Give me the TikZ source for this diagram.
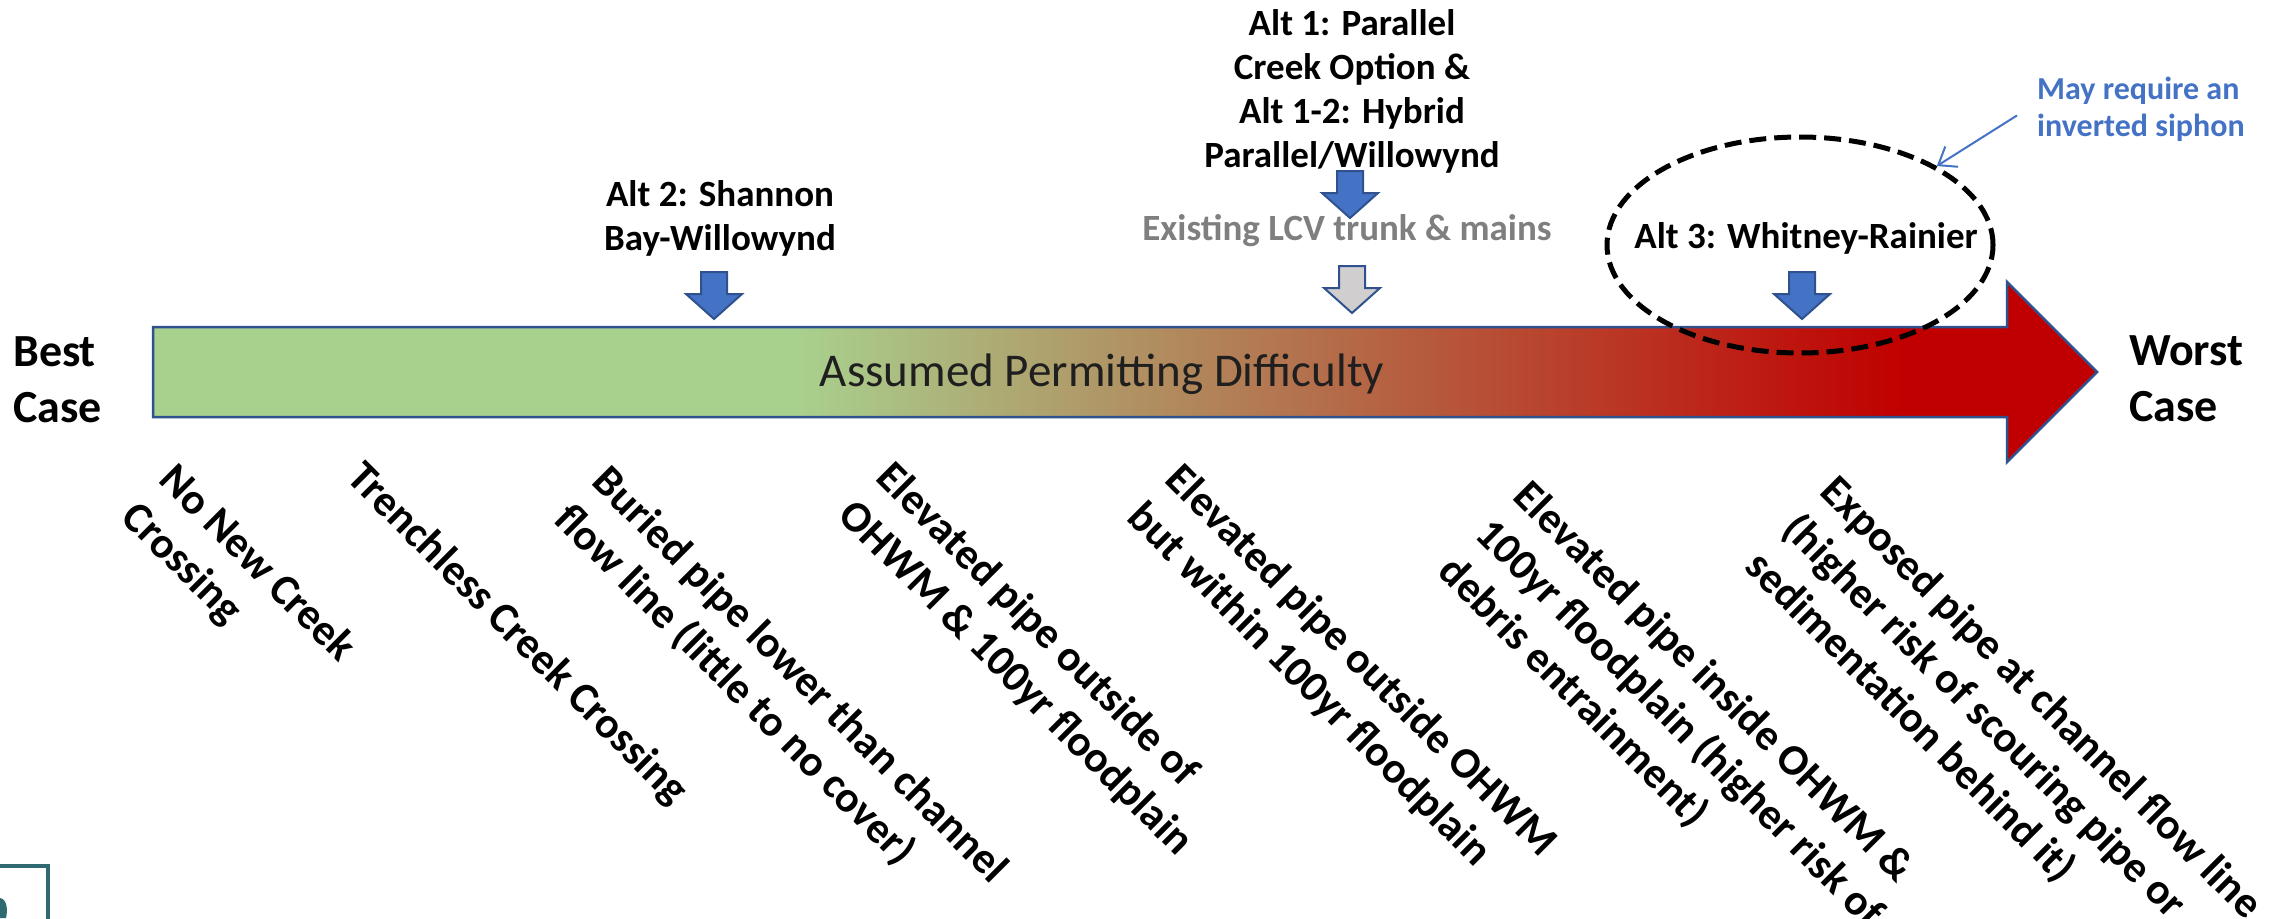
\documentclass[tikz,border=0pt]{standalone}
\usepackage{fontspec}
\setmainfont{Carlito}
\usetikzlibrary{arrows.meta,shapes.geometric}
\definecolor{gA}{HTML}{A9D18E}
\definecolor{rA}{HTML}{C00000}
\definecolor{edgeB}{HTML}{2F528F}
\definecolor{fillB}{HTML}{4472C4}
\definecolor{greyF}{HTML}{D0CECE}
\definecolor{greyT}{HTML}{7F7F7F}
\definecolor{tealC}{HTML}{2E6A70}
\definecolor{noteB}{HTML}{4472C4}
\pgfdeclarehorizontalshading{permgrad}{100bp}{color(0bp)=(gA); color(41.5bp)=(gA); color(70bp)=(rA); color(100bp)=(rA)}
\begin{document}
\begin{tikzpicture}[x=1pt,y=-1pt,
  downarr/.pic={\path[pic actions] (-13,-47) -- (13,-47) -- (13,-25) -- (28,-25) -- (0,0) -- (-28,-25) -- (-13,-25) -- cycle;},
  bluearr/.style={fill=fillB, draw=edgeB, line width=2pt},
  greyarr/.style={fill=greyF, draw=edgeB, line width=2pt},
  rotlab/.style={anchor=north west, inner sep=0pt, rotate=-45, align=left, font=\fontsize{43.5}{53}\selectfont\bfseries},
  altlab/.style={anchor=north, inner sep=0pt, align=center, font=\fontsize{37}{44}\selectfont\bfseries},
  caselab/.style={anchor=north west, inner sep=0pt, align=left, font=\fontsize{46}{56}\selectfont\bfseries},
  notelab/.style={anchor=north west, inner sep=0pt, align=left, text=noteB, font=\fontsize{32}{37}\selectfont\bfseries},
  ovalstyle/.style={ellipse, draw=black, dash pattern=on 17pt off 8pt, line width=5pt, minimum width=386pt, minimum height=216pt, inner sep=0pt},
  notearrow/.style={draw=noteB, line width=2pt, -{Straight Barb[length=16pt,width=24pt,line width=2pt]}}
]
\useasboundingbox (0,0) rectangle (2282,918);

% main gradient arrow
\path[shading=permgrad, draw=edgeB, line width=2.5pt, line join=miter]
  (153,327) -- (2007,327) -- (2007,282) -- (2097,372) -- (2007,462) -- (2007,417) -- (153,417) -- cycle;
\node[inner sep=0pt, font=\fontsize{47}{56}\selectfont, text=black!88] (perm) at (1102,374) {Assumed Permitting Difficulty};

% end labels
\node[caselab] (best) at (13,336) {Best\\Case};
\node[caselab] (worst) at (2129,335) {Worst\\Case};

% alternatives above
\node[altlab] (alt2) at (720,180) {Alt 2: Shannon\\Bay-Willowynd};
\pic[bluearr] at (714,319) {downarr};

\node[altlab] (alt1) at (1352,9) {Alt 1: Parallel\\Creek Option \&\\Alt 1-2: Hybrid\\Parallel/Willowynd};
\pic[bluearr] at (1350,218) {downarr};

\node[altlab, text=greyT] (lcv) at (1347,214) {Existing LCV trunk \& mains};
\pic[greyarr] at (1352,313) {downarr};

\node[altlab] (alt3) at (1806,222) {Alt 3: Whitney-Rainier};
\pic[bluearr] at (1802,319) {downarr};

\node[ovalstyle] (oval) at (1800,245) {};

\node[notelab] (note) at (2037,77) {May require an\\inverted siphon};
\draw[notearrow] ([xshift=-20pt,yshift=-6pt]note.west) -- (oval.30);

% rotated criteria labels
\node[rotlab] (c1) at (179,460) {No New Creek\\Crossing};
\node[rotlab] (c2) at (367,458) {Trenchless Creek Crossing};
\node[rotlab] (c3) at (612,462) {Buried pipe lower than channel\\flow line (little to no cover)};
\node[rotlab] (c4) at (896,458) {Elevated pipe outside of\\OHWM \& 100yr floodplain};
\node[rotlab] (c5) at (1185,460) {Elevated pipe outside OHWM\\but within 100yr floodplain};
\node[rotlab] (c6) at (1533,477) {Elevated pipe inside OHWM \&\\100yr floodplain (higher risk of\\debris entrainment)};
\node[rotlab] (c7) at (1840,472) {Exposed pipe at channel flow line\\(higher risk of scouring pipe or\\sedimentation behind it)};

% logo fragment bottom-left
\draw[tealC, line width=4pt] (-10,866) -- (48,866) -- (48,930);
\fill[tealC] (0,898) .. controls (7,899) and (8,910) .. (6,918) -- (0,918) -- cycle;
\end{tikzpicture}
\end{document}
